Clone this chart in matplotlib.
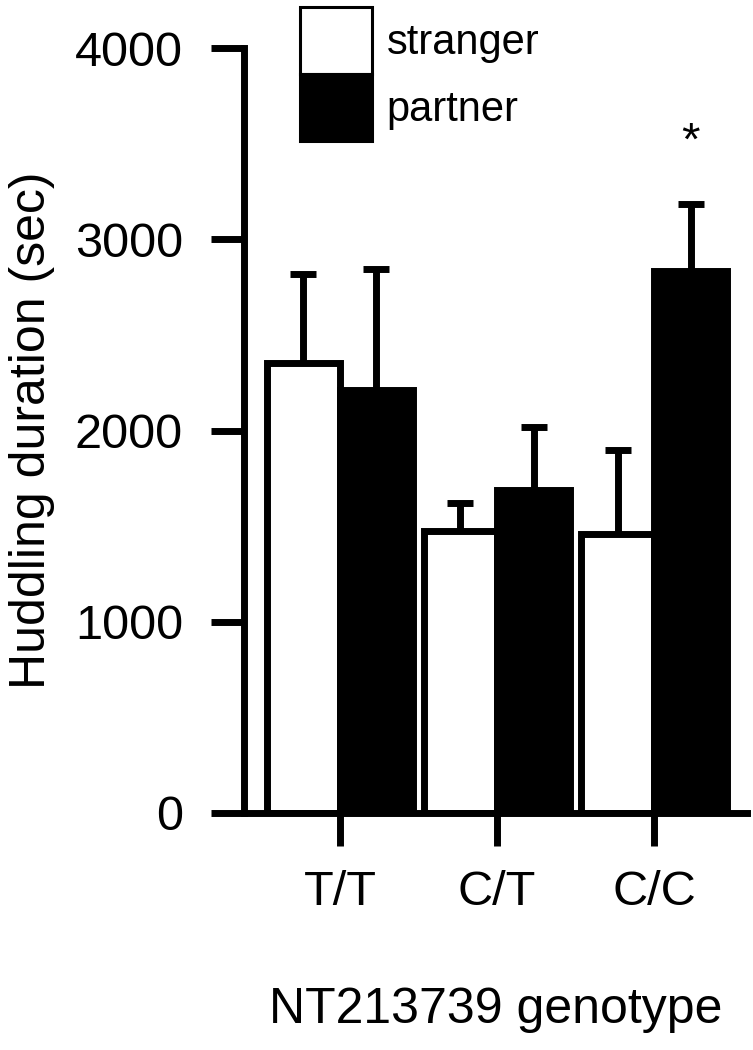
import numpy as np
import matplotlib
matplotlib.use('Agg')
import matplotlib.pyplot as plt

# Data
genotypes = ['T/T', 'C/T', 'C/C']
stranger = [2353, 1474, 1459]
stranger_err = [465, 147, 439]
partner = [2213, 1690, 2836]
partner_err = [634, 330, 350]
sig_mark = ['', '', '*']

plt.rcParams['font.family'] = ['Liberation Sans', 'DejaVu Sans']

fig = plt.figure(figsize=(7.53, 10.5), dpi=100)
ax = fig.add_axes([244 / 753, 237 / 1050, (747 - 244) / 753, (1002 - 237) / 1050])

x = np.arange(len(genotypes))
w = 0.465
lw = 5

b1 = ax.bar(x - w / 2, stranger, w, color='white', edgecolor='black', linewidth=lw,
            zorder=2, label='stranger')
b2 = ax.bar(x + w / 2, partner, w, color='black', edgecolor='black', linewidth=lw,
            zorder=2, label='partner')

# error bars behind the bars so only the upper half shows
ax.errorbar(x - w / 2, stranger, yerr=stranger_err, fmt='none', ecolor='black',
            elinewidth=lw, capsize=9.5, capthick=lw, zorder=1)
ax.errorbar(x + w / 2, partner, yerr=partner_err, fmt='none', ecolor='black',
            elinewidth=lw, capsize=9.5, capthick=lw, zorder=1)

for i, m in enumerate(sig_mark):
    if m:
        ax.text(x[i] + w / 2, partner[i] + partner_err[i] + 258, m, ha='center',
                va='baseline', fontsize=34)

ax.set_xlim(-0.611, 2.592)
ax.set_ylim(0, 4000)
ax.set_yticks([0, 1000, 2000, 3000, 4000])
ax.set_xticks(x)
ax.set_xticklabels(genotypes)

for s in ['top', 'right']:
    ax.spines[s].set_visible(False)
for s in ['left', 'bottom']:
    ax.spines[s].set_linewidth(lw)
ax.tick_params(axis='y', length=24, width=lw, labelsize=35, pad=20)
ax.tick_params(axis='x', length=24, width=lw, labelsize=35, pad=17)

ax.set_ylabel('Huddling duration (sec)', fontsize=36, labelpad=14)
ax.set_xlabel('NT213739 genotype', fontsize=36, labelpad=52)

leg = ax.legend(handles=[b1, b2], labels=['stranger', 'partner'], loc='upper left',
                bbox_to_anchor=(300 / 753, 1 - 7 / 1050), bbox_transform=fig.transFigure,
                frameon=False, fontsize=30, handlelength=1.73, handleheight=2.1,
                labelspacing=0, handletextpad=0.35, borderpad=0, borderaxespad=0)
for h in leg.legend_handles:
    h.set_linewidth(2.2)

fig.savefig('out.png', dpi=100)
